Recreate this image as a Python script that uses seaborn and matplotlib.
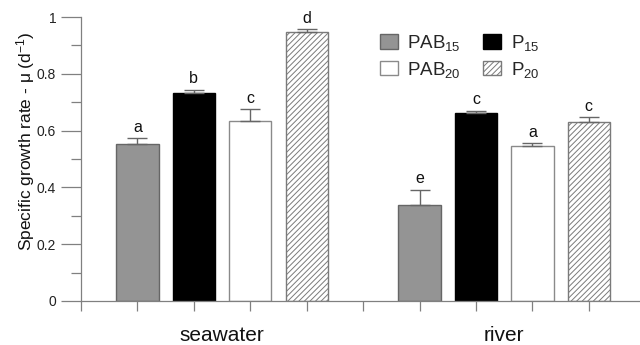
import numpy as np
import pandas as pd
import matplotlib
matplotlib.use("Agg")
import matplotlib.pyplot as plt
from matplotlib.patches import Patch
import seaborn as sns

# ---- data ----
sites = ["seawater", "river"]
treatments = ["PAB15", "P15", "PAB20", "P20"]
treatment_labels = [r"PAB$_{15}$", r"P$_{15}$", r"PAB$_{20}$", r"P$_{20}$"]
mu_seawater = [0.553, 0.732, 0.634, 0.948]
mu_river = [0.338, 0.663, 0.546, 0.631]
err_seawater = [0.020, 0.012, 0.041, 0.008]
err_river = [0.054, 0.007, 0.010, 0.017]
letters_seawater = ["a", "b", "c", "d"]
letters_river = ["e", "c", "a", "c"]
yticks = [0, 0.2, 0.4, 0.6, 0.8, 1.0]
ytick_labels = ["0", "0.2", "0.4", "0.6", "0.8", "1"]

sns.set_style("ticks")
plt.rcParams["font.family"] = ["Liberation Sans", "DejaVu Sans"]
plt.rcParams["mathtext.fontset"] = "custom"
plt.rcParams["mathtext.rm"] = "Liberation Sans"
plt.rcParams["mathtext.it"] = "Liberation Sans:italic"
plt.rcParams["mathtext.default"] = "regular"
plt.rcParams["hatch.linewidth"] = 0.7

rows = []
for s, mus in zip(sites, [mu_seawater, mu_river]):
    for t, m in zip(treatments, mus):
        rows.append({"site": s, "treatment": t, "mu": m})
df = pd.DataFrame(rows)

fills = {"PAB15": "#949494", "P15": "#000000", "PAB20": "#ffffff", "P20": "#ffffff"}
edges = {"PAB15": "#666666", "P15": "#000000", "PAB20": "#8a8a8a", "P20": "#7a7a7a"}

fig = plt.figure(figsize=(6.4, 3.45), dpi=100)
ax = fig.add_axes([81 / 640, 1 - 301 / 345, 1 - 81 / 640 - 0.001, (301 - 17) / 345])

sns.barplot(data=df, x="site", y="mu", hue="treatment", order=sites,
            hue_order=treatments, palette=fills, width=0.8, gap=0.25,
            errorbar=None, legend=False, ax=ax, linewidth=1.0)

errs = {s: e for s, e in zip(sites, [err_seawater, err_river])}
lets = {s: l for s, l in zip(sites, [letters_seawater, letters_river])}

for ti, (t, cont) in enumerate(zip(treatments, ax.containers)):
    xs, hs, es = [], [], []
    for si, bar in enumerate(cont):
        bar.set_edgecolor(edges[t])
        bar.set_linewidth(1.0)
        if t == "P20":
            bar.set_hatch("//////")
        x = bar.get_x() + bar.get_width() / 2
        h = bar.get_height()
        e = errs[sites[si]][ti]
        xs.append(x); hs.append(h); es.append(e)
        ax.text(x, h + e + 0.022, lets[sites[si]][ti], ha="center", va="baseline",
                fontsize=11.5, color="#111111")
    ax.errorbar(xs, hs, yerr=[np.zeros(len(es)), es], fmt="none",
                ecolor="#666666", elinewidth=1.0, capsize=7, capthick=1.0, zorder=1)

ax.set_ylim(0, 1)
ax.set_xlim(-0.5, 1.479)
ax.set_yticks(yticks)
ax.set_yticklabels(ytick_labels)
ax.set_yticks(np.arange(0.1, 1.0, 0.2), minor=True)
ax.set_xticks([0, 1])
ax.set_xticklabels(sites)
ax.set_xticks(np.arange(-0.5, 1.4, 0.2), minor=True)

for sp in ["top", "right"]:
    ax.spines[sp].set_visible(False)
for sp in ["left", "bottom"]:
    ax.spines[sp].set_color("#808080")
    ax.spines[sp].set_linewidth(0.9)

ax.tick_params(axis="y", which="major", length=14.4, width=0.9, color="#808080",
               labelsize=10, pad=3.5, labelcolor="#222222")
ax.tick_params(axis="y", which="minor", length=7.2, width=0.9, color="#808080")
ax.tick_params(axis="x", which="major", length=0, labelsize=15, pad=18,
               labelcolor="#111111")
ax.tick_params(axis="x", which="minor", length=7.2, width=0.9, color="#808080")

ax.set_xlabel("")
ax.set_ylabel(r"Specific growth rate - μ (d$^{-1}$)", fontsize=12.5,
              color="#111111")
ax.yaxis.set_label_coords(-44 / 559, (301 - 141) / 284)

handles = [Patch(facecolor=fills[t], edgecolor=edges[t],
                 hatch="//////" if t == "P20" else None, linewidth=1.0)
           for t in treatments]
# order for ncol=2 legend (fills column-wise): PAB15, PAB20, P15, P20
order = [0, 2, 1, 3]
leg = ax.legend([handles[i] for i in order], [treatment_labels[i] for i in order],
                ncol=2, frameon=False, fontsize=13.5, loc="upper left",
                bbox_to_anchor=(380 / 640, 1 - 33 / 345), bbox_transform=fig.transFigure,
                handlelength=0.95, handleheight=0.8, handletextpad=0.5,
                columnspacing=1.2, labelspacing=0.35, borderpad=0, borderaxespad=0)

fig.savefig("out.png", dpi=100)
